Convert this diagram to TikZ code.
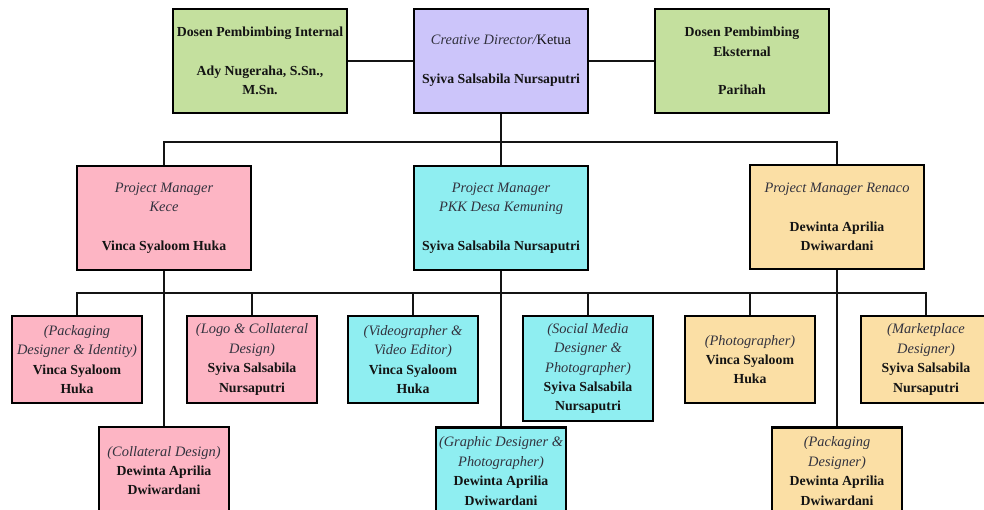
\documentclass[tikz,border=0pt]{standalone}
\usepackage{fontspec}
\setmainfont{Liberation Serif}
\definecolor{cgreen}{RGB}{196,224,158}
\definecolor{clav}{RGB}{204,197,250}
\definecolor{cpink}{RGB}{253,181,196}
\definecolor{ccyan}{RGB}{143,238,241}
\definecolor{ctan}{RGB}{251,223,165}
\definecolor{itc}{RGB}{50,50,62}
\newcommand{\roleT}[1]{{\fontsize{14.4}{19.4}\selectfont\itshape\color{itc}#1}}
\newcommand{\nmT}[1]{{\bfseries #1}}
\begin{document}
\begin{tikzpicture}[x=1pt,y=-1pt,
  box/.style={draw=black, line width=2.2pt, rectangle, align=center, inner sep=0pt,
    font=\fontsize{13.8}{19.4}\selectfont, text=black!92},
  topbox/.style={box, minimum width=174pt, minimum height=104pt},
  subbox/.style={box, minimum width=130pt, minimum height=87pt},
  wire/.style={line width=2pt, draw=black!92}
]
\clip (0,0) rectangle (984,510);
\fill[white] (0,0) rectangle (984,510);
\coordinate (b1) at (0,142);
\coordinate (b2) at (0,293);

% top row
\node[topbox, fill=cgreen] (int) at (260,61) {\nmT{Dosen Pembimbing Internal}\\[19.4pt]\nmT{Ady Nugeraha, S.Sn.,}\\\nmT{M.Sn.}};
\node[topbox, fill=clav] (cd) at (501,61) {\roleT{Creative Director/}{\fontsize{14.4}{19.4}\selectfont Ketua}\\[19.4pt]\nmT{Syiva Salsabila Nursaputri}};
\node[topbox, fill=cgreen] (ext) at (742,61) {\nmT{Dosen Pembimbing}\\\nmT{Eksternal}\\[19.4pt]\nmT{Parihah}};

% managers
\node[topbox, fill=cpink] (kece) at (164,218) {\roleT{Project Manager}\\\roleT{Kece}\\[19.4pt]\nmT{Vinca Syaloom Huka}};
\node[topbox, fill=ccyan] (pkk) at (501,218) {\roleT{Project Manager}\\\roleT{PKK Desa Kemuning}\\[19.4pt]\nmT{Syiva Salsabila Nursaputri}};
\node[topbox, fill=ctan] (ren) at (837,217) {\roleT{Project Manager Renaco}\\[19.4pt]\nmT{Dewinta Aprilia}\\\nmT{Dwiwardani}};

% members row 1
\node[subbox, fill=cpink] (p1) at (77,359.5) {\roleT{(Packaging}\\\roleT{Designer \& Identity)}\\\nmT{Vinca Syaloom}\\\nmT{Huka}};
\node[subbox, fill=cpink] (p2) at (252,359.5) {\roleT{(Logo \& Collateral}\\\roleT{Design)}\\\nmT{Syiva Salsabila}\\\nmT{Nursaputri}};
\node[subbox, fill=ccyan] (c1) at (413,359.5) {\roleT{(Videographer \&}\\\roleT{Video Editor)}\\\nmT{Vinca Syaloom}\\\nmT{Huka}};
\node[subbox, fill=ccyan, minimum height=105pt] (c2) at (588,368.5) {\roleT{(Social Media}\\\roleT{Designer \&}\\\roleT{Photographer)}\\\nmT{Syiva Salsabila}\\\nmT{Nursaputri}};
\node[subbox, fill=ctan] (r1) at (750,359.5) {\roleT{(Photographer)}\\\nmT{Vinca Syaloom}\\\nmT{Huka}};
\node[subbox, fill=ctan] (r2) at (926,359.5) {\roleT{(Marketplace}\\\roleT{Designer)}\\\nmT{Syiva Salsabila}\\\nmT{Nursaputri}};

% members row 2
\node[subbox, fill=cpink] (p3) at (164,470.5) {\roleT{(Collateral Design)}\\\nmT{Dewinta Aprilia}\\\nmT{Dwiwardani}};
\node[subbox, fill=ccyan] (c3) at (501,471) {\roleT{(Graphic Designer \&}\\\roleT{Photographer)}\\\nmT{Dewinta Aprilia}\\\nmT{Dwiwardani}};
\node[subbox, fill=ctan] (r3) at (837,471) {\roleT{(Packaging}\\\roleT{Designer)}\\\nmT{Dewinta Aprilia}\\\nmT{Dwiwardani}};

% connectors
\draw[wire] (int.east) -- (cd.west);
\draw[wire] (cd.east) -- (ext.west);
\draw[wire] (cd.south) -- (pkk.north);
\draw[wire] (kece.north) |- (b1 -| ren.north) -- (ren.north);

\draw[wire] (p1.north) |- (b2 -| r2.north) -- (r2.north);
\draw[wire] (kece.south) -- (p3.north);
\draw[wire] (pkk.south) -- (c3.north);
\draw[wire] (ren.south) -- (r3.north);
\draw[wire] (b2 -| p2.north) -- (p2.north);
\draw[wire] (b2 -| c1.north) -- (c1.north);
\draw[wire] (b2 -| c2.north) -- (c2.north);
\draw[wire] (b2 -| r1.north) -- (r1.north);
\end{tikzpicture}
\end{document}
